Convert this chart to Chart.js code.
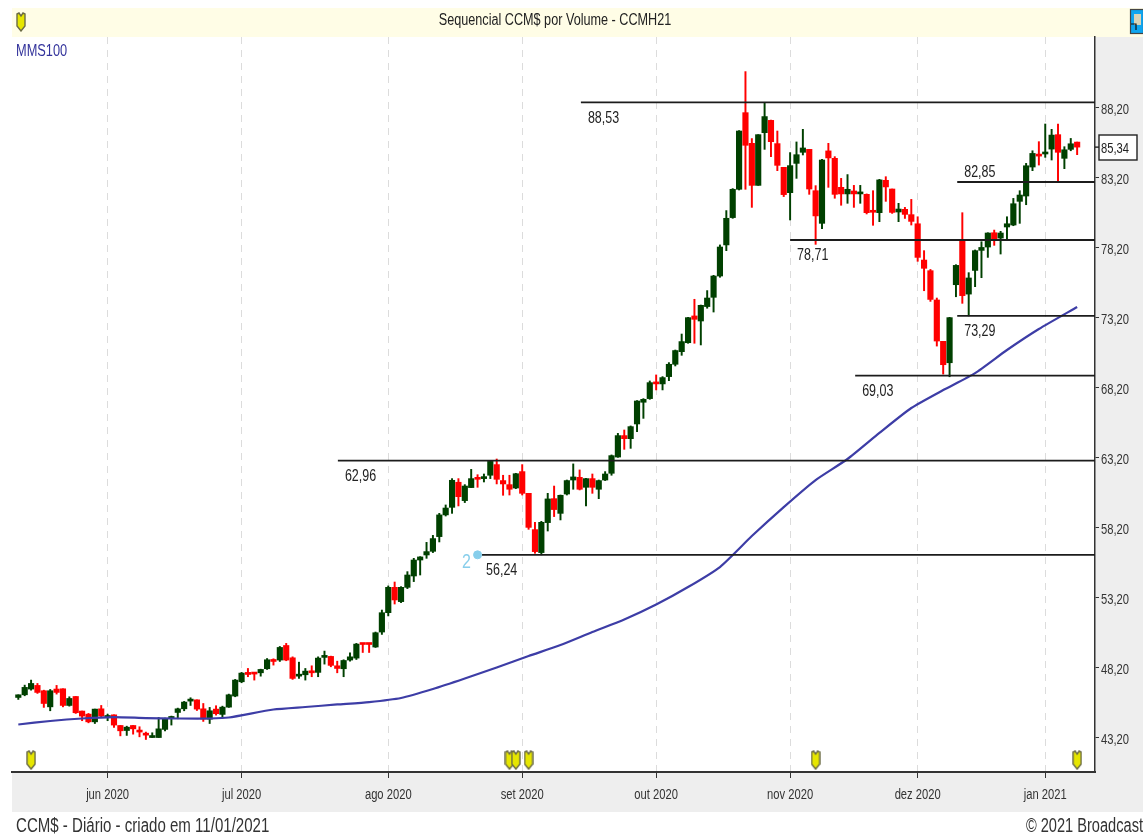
<!DOCTYPE html>
<html>
<head>
<meta charset="utf-8">
<title>Sequencial CCM$ por Volume - CCMH21</title>
<script src="https://cdn.jsdelivr.net/npm/chart.js@4"></script>
<style>
  html,body{margin:0;padding:0;background:#fff;}
  canvas{display:block;}
</style>
</head>
<body>
<canvas id="chart" width="1143" height="838"></canvas>
<script>
/* -------- DATA -------- */
const opens = [46.06,46.25,46.66,46.92,46.54,45.39,46.66,46.68,45.49,46.13,45.09,44.87,44.32,45.25,44.63,44.82,44.06,43.70,44.06,43.68,43.44,43.20,43.20,43.78,44.56,44.99,45.25,45.80,45.89,45.25,44.51,45.23,44.85,45.37,46.16,47.18,47.85,47.82,47.82,48.11,48.77,48.73,49.77,48.89,47.58,47.68,47.96,47.85,48.92,48.99,48.32,48.11,48.73,48.87,49.89,49.89,49.66,50.73,
  52.11,53.92,52.90,53.92,54.73,55.87,56.23,56.49,57.54,59.09,59.63,61.42,60.11,61.04,61.70,61.68,61.92,62.68,61.54,61.25,61.01,62.18,60.63,58.04,56.40,58.54,60.25,59.20,60.58,61.58,61.77,61.06,61.68,60.92,61.58,62.06,63.22,64.75,64.53,65.58,67.13,67.39,
  68.53,68.44,68.96,69.84,70.74,71.38,73.29,72.93,73.96,74.62,76.14,78.36,80.31,82.33,87.80,85.61,82.61,86.37,87.25,85.59,83.90,82.09,84.18,84.97,85.18,82.23,79.90,85.07,84.54,82.47,82.00,82.21,82.00,81.97,80.81,80.66,82.97,
  82.35,80.71,80.90,80.52,79.87,77.28,76.52,74.43,71.48,69.95,75.52,78.64,74.85,76.54,77.97,78.21,79.23,78.85,79.64,79.78,81.47,81.85,83.92,84.82,84.85,85.20,86.23,84.54,85.18,85.70];
const highs = [46.25,46.94,47.30,47.06,46.58,46.63,46.92,46.68,46.11,46.13,45.09,44.92,45.23,45.49,44.87,44.82,44.06,44.01,44.06,43.97,43.59,43.54,44.63,44.58,44.73,45.30,45.78,46.04,45.89,45.63,45.35,45.47,45.44,46.30,47.35,47.85,48.13,47.82,48.08,48.84,48.82,49.70,49.92,48.96,48.58,48.13,48.32,48.96,49.37,49.01,48.65,48.75,49.25,49.92,49.89,49.89,50.73,52.30,
  54.02,54.30,53.97,55.04,55.99,56.11,57.13,57.63,59.20,59.80,61.68,61.68,61.25,62.34,61.96,62.01,62.96,63.08,61.92,61.92,62.06,62.68,60.63,58.56,58.63,60.63,61.15,60.51,61.58,62.73,62.30,61.70,62.01,61.58,62.18,63.37,64.91,65.15,65.44,67.25,67.39,68.65,
  69.08,68.96,69.96,70.86,72.00,73.19,74.48,74.07,75.10,76.19,78.36,80.81,82.38,86.52,90.73,85.95,86.23,88.53,87.27,86.49,83.90,84.95,85.71,86.61,85.18,82.59,84.47,85.61,84.66,83.11,83.38,82.61,82.61,82.00,82.23,83.04,83.23,
  82.35,81.33,81.04,81.61,80.37,77.95,76.61,74.57,71.48,73.19,76.95,80.66,76.38,78.00,78.59,79.23,79.42,79.33,80.37,81.68,82.23,84.18,85.08,85.73,86.99,86.61,86.99,85.37,85.96,85.70];
const lows = [45.92,46.18,46.58,46.35,45.35,45.11,46.30,45.39,45.44,44.92,44.40,44.25,44.20,44.63,44.40,43.92,43.32,43.35,43.44,43.25,43.06,43.20,43.20,43.68,44.09,44.54,45.11,45.49,45.13,44.35,44.20,44.80,44.58,45.35,46.11,47.11,47.54,47.30,47.58,48.06,48.37,48.63,48.68,47.35,47.42,47.30,47.54,47.54,48.44,48.25,47.82,47.54,48.65,48.77,49.27,49.27,49.63,50.56,
  51.88,52.73,52.83,53.83,54.33,54.80,55.99,56.40,57.16,59.01,59.20,59.73,59.97,61.04,61.06,61.44,61.68,61.30,60.49,60.51,60.96,60.51,58.06,56.35,56.24,57.94,58.97,58.73,60.51,60.92,60.87,59.73,60.63,60.25,61.54,61.92,63.20,63.77,63.84,65.03,65.98,67.34,
  68.01,68.01,68.67,69.72,70.48,71.34,71.34,71.22,73.84,73.57,76.05,77.95,80.26,82.28,82.33,81.04,82.61,85.18,84.66,83.66,81.81,80.14,83.11,84.78,81.97,78.40,79.52,82.47,81.69,81.19,81.33,81.04,81.33,80.57,79.76,80.02,81.47,
  80.61,80.02,80.25,79.78,77.19,75.09,74.33,71.14,69.14,68.95,74.66,74.19,73.29,75.38,76.02,77.47,78.33,77.71,78.71,79.73,79.90,81.23,83.66,84.06,84.61,84.42,82.85,83.80,85.08,84.80];
const closes = [46.25,46.78,47.06,46.42,45.63,46.54,46.42,45.49,45.99,44.97,44.73,44.32,45.23,44.73,44.75,44.09,43.68,43.94,43.82,43.59,43.37,43.28,43.82,44.51,44.70,45.25,45.73,45.89,45.23,44.51,45.11,44.90,45.37,46.25,47.30,47.80,47.70,47.73,48.06,48.75,48.63,49.63,48.73,47.42,47.68,47.94,47.82,48.87,48.96,48.35,48.13,48.70,48.96,49.87,49.84,49.84,50.68,52.11,
  53.92,53.02,53.92,54.80,55.87,56.09,56.47,57.40,59.09,59.58,61.56,60.39,61.15,61.68,61.63,61.77,62.91,61.63,61.30,60.92,62.03,60.63,58.20,56.47,58.56,60.23,59.47,60.49,61.54,61.80,60.92,61.68,61.06,61.54,62.01,63.32,64.75,64.53,65.39,67.22,67.34,68.53,
  68.44,68.89,69.84,70.82,71.46,73.17,73.05,74.05,74.57,76.14,78.21,80.26,82.33,86.49,85.47,82.61,86.23,87.52,85.73,84.04,81.95,84.02,84.80,85.28,82.35,80.43,84.42,84.57,81.97,82.00,82.33,82.00,82.09,80.66,80.69,83.00,82.50,
  80.68,80.92,80.54,80.04,77.47,76.69,74.47,71.50,69.81,73.17,76.90,74.74,76.00,77.95,78.18,79.21,78.71,79.21,79.87,81.30,81.92,84.01,84.89,84.70,84.94,86.20,84.97,85.15,85.58,85.34];

// MMS100, read every few candles
const maIndex = [0,5,10,15,20,25,30,33,40,45,50,55,60,65,70,75,80,85,90,95,100,105,110,115,120,125,130,135,140,145,150,155,160,166];
const maValues = [44.13,44.38,44.56,44.66,44.59,44.56,44.56,44.63,45.20,45.38,45.56,45.73,46.02,46.66,47.41,48.20,49.02,49.80,50.73,51.62,52.69,53.94,55.37,57.58,59.65,61.58,63.08,64.94,66.72,68.00,69.21,70.86,72.36,73.93];

// horizontal levels
const levelValues = [88.53,62.96,56.24,78.71,82.85,73.29,69.03];
const levelStart  = [88.2,50.1,72.7,121,147.2,147.2,131.2];
const levelAbove  = [false,false,false,false,true,false,false];

const monthTicks  = [14,35,58,79,100,121,141,161];
const monthLabels = ["jun 2020","jul 2020","ago 2020","set 2020","out 2020","nov 2020","dez 2020","jan 2021"];
const priceTicks  = [43.2,48.2,53.2,58.2,63.2,68.2,73.2,78.2,83.2,88.2];

const markerIndex = [2,77,78,80,125,166];
const lastPrice = 85.34;

const fmt = v => v.toFixed(2).replace(".",",");
const FONT = '"Liberation Sans",sans-serif';
const xMin = -0.99, xMax = 168.8, yMin = 40.74, yMax = 93.2;

/* -------- YELLOW SHIELD ICON -------- */
function shieldIcon(){
  let c = document.createElement("canvas");
  c.width = 10; c.height = 20;
  let g = c.getContext("2d");
  g.beginPath();
  g.moveTo(1,2); g.lineTo(3,1); g.lineTo(5,4); g.lineTo(7,1); g.lineTo(9,2);
  g.lineTo(9,14); g.lineTo(5,19); g.lineTo(1,14); g.closePath();
  g.fillStyle = "#e6e600"; g.fill();
  g.strokeStyle = "#6b6b45"; g.lineWidth = 1.4; g.stroke();
  return c;
}
const shield = shieldIcon();

// the reference font is tall and narrow, no narrow face is installed
function narrowText(ctx,text,x,y,size,squeeze){
  ctx.save();
  ctx.translate(x,y);
  ctx.scale(squeeze,1);
  ctx.font = size+"px "+FONT;
  ctx.fillText(text,0,0);
  ctx.restore();
}

/* -------- BANDS AND TEXTS -------- */
const frame = {
  id:"frame",
  beforeDraw(chart){
    const {ctx, chartArea:a} = chart;
    ctx.save();
    ctx.fillStyle = "#eeeeee";
    ctx.fillRect(a.right,a.top,1143-a.right,a.bottom-a.top);
    ctx.fillRect(a.left,a.bottom,1143-a.left,40);
    ctx.fillStyle = "#fffde6";
    ctx.fillRect(a.left,8,1143-a.left,29);
    ctx.restore();
  },
  afterDraw(chart){
    const {ctx, chartArea:a, scales:{x,y}} = chart;
    ctx.save();
    ctx.textBaseline = "middle";

    ctx.fillStyle = "#222";
    ctx.textAlign = "center";
    narrowText(ctx,"Sequencial CCM$ por Volume - CCMH21",555,21,16,0.79);

    // axis labels come from the scales, squeezed like the other texts
    ctx.fillStyle = "#333";
    x.ticks.forEach((t,i)=>{
      narrowText(ctx,t.label,x.getPixelForTick(i),795,14,0.8);
    });

    ctx.textAlign = "left";
    y.ticks.forEach((t,i)=>{
      narrowText(ctx,t.label,1101,y.getPixelForTick(i)+3,14,0.8);
    });

    ctx.fillStyle = "#34349c";
    narrowText(ctx,"MMS100",16,52,16,0.8);

    // level labels
    ctx.fillStyle = "#222";
    levelValues.forEach((v,i)=>{
      let px = x.getPixelForValue(levelStart[i])+(i===2?4:7);
      let py = y.getPixelForValue(v)+(levelAbove[i]?-9:16);
      narrowText(ctx,fmt(v),px,py,16,0.78);
    });

    ctx.fillStyle = "#87ceeb";
    narrowText(ctx,"2",462,562,20,0.8);

    // last price box
    ctx.fillStyle = "#fff";
    ctx.fillRect(1099,135,38,25);
    ctx.strokeStyle = "#222";
    ctx.lineWidth = 1.4;
    ctx.strokeRect(1099,135,38,25);
    ctx.fillStyle = "#222";
    narrowText(ctx,fmt(lastPrice),1101,149,14,0.8);
    ctx.beginPath();
    ctx.moveTo(a.right,y.getPixelForValue(lastPrice));
    ctx.lineTo(1099,y.getPixelForValue(lastPrice));
    ctx.stroke();

    // footer
    ctx.fillStyle = "#333";
    narrowText(ctx,"CCM$ - Diário - criado em 11/01/2021",16,826,20,0.753);
    ctx.textAlign = "right";
    narrowText(ctx,"© 2021 Broadcast",1143,826,20,0.73);

    // header icons
    ctx.drawImage(shield,16,12);
    ctx.fillStyle = "#0ea5f0";
    ctx.fillRect(1130,9,13,25);
    ctx.strokeStyle = "#444";
    ctx.lineWidth = 1.2;
    ctx.strokeRect(1130.5,9.5,13,24);
    ctx.fillStyle = "#d9d4b8";
    ctx.fillRect(1134,14,7,11);
    ctx.strokeStyle = "#111";
    ctx.beginPath();
    ctx.moveTo(1131,24); ctx.lineTo(1136,24); ctx.lineTo(1136,30);
    ctx.stroke();
    ctx.restore();
  }
};

/* -------- DATASETS -------- */
const candleColor = closes.map((c,i)=> c>=opens[i] ? "#004000" : "#ff0000");

let datasets = [
  { type:"bar", order:5, grouped:false, barThickness:1.3,
    data:closes.map((c,i)=>({x:i,y:[lows[i],highs[i]]})),
    backgroundColor:candleColor },
  { type:"bar", order:4, grouped:false, barThickness:5.5, minBarLength:2,
    data:closes.map((c,i)=>({x:i,y:[opens[i],c]})),
    backgroundColor:candleColor },
  { type:"line", order:3, data:maIndex.map((v,i)=>({x:v,y:maValues[i]})),
    borderColor:"#3d3da6", borderWidth:2.2, pointRadius:0, tension:0.2 }
];

levelValues.forEach((v,i)=>{
  datasets.push({ type:"line", order:2,
    data:[{x:levelStart[i],y:v},{x:xMax,y:v}],
    borderColor:"#1c1c1c", borderWidth:1.8, pointRadius:0 });
});

datasets.push({ type:"line", order:1, showLine:false,
  data:markerIndex.map(v=>({x:v,y:41.59})),
  pointStyle:shield, pointRadius:10 });

datasets.push({ type:"line", order:1, showLine:false,
  data:[{x:72,y:56.24}],
  pointStyle:"circle", pointRadius:4, backgroundColor:"#87ceeb", borderColor:"#87ceeb" });

/* -------- CHART -------- */
new Chart(document.getElementById("chart"),{
  data:{datasets:datasets},
  options:{
    responsive:false,
    animation:false,
    layout:{padding:{left:12,top:37,bottom:26,right:0}},
    plugins:{legend:{display:false},tooltip:{enabled:false},title:{display:false}},
    scales:{
      x:{
        type:"linear", min:xMin, max:xMax, offset:false,
        afterBuildTicks(s){ s.ticks = monthTicks.map(v=>({value:v})); },
        afterFit(s){ s.height = 40; },
        ticks:{
          display:false, autoSkip:false, maxRotation:0,
          callback:v=>monthLabels[monthTicks.indexOf(v)]
        },
        grid:{color:"#dcdcdc",tickColor:"#333",tickLength:6,offset:false},
        border:{display:true,color:"#333",width:2,dash:[7,6]}
      },
      y:{
        type:"linear", position:"right", min:yMin, max:yMax,
        afterBuildTicks(s){ s.ticks = priceTicks.map(v=>({value:v})); },
        afterFit(s){ s.width = 48; },
        ticks:{
          display:false, autoSkip:false,
          callback:v=>fmt(v)
        },
        grid:{drawOnChartArea:false,tickColor:"#333",tickLength:4},
        border:{display:true,color:"#333",width:1.5}
      }
    }
  },
  plugins:[frame]
});
</script>
</body>
</html>
